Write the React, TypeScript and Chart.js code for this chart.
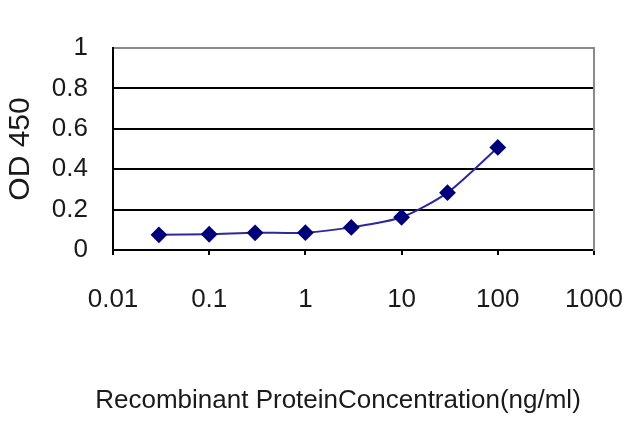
import React, { useEffect, useRef } from "react";
import { Chart, registerables } from "chart.js";

Chart.register(...registerables);

const concentrations = [0.03, 0.1, 0.3, 1, 3, 10, 30, 100];
const odValues = [0.075, 0.078, 0.085, 0.086, 0.112, 0.162, 0.284, 0.508];
const xTickValues = [0.01, 0.1, 1, 10, 100, 1000];
const xTitle = "Recombinant ProteinConcentration(ng/ml)";
const yTitle = "OD 450";

const FONT = "'Liberation Sans', Arial, sans-serif";

export default function App() {
  const ref = useRef<HTMLCanvasElement | null>(null);

  useEffect(() => {
    if (!ref.current) return;
    const chart = new Chart(ref.current, {
      type: "line",
      data: {
        datasets: [
          {
            data: concentrations.map((c, i) => ({ x: c, y: odValues[i] })),
            borderColor: "#2a2a9c",
            borderWidth: 2,
            backgroundColor: "#00007a",
            pointBackgroundColor: "#00007a",
            pointBorderColor: "#00007a",
            pointStyle: "rectRot",
            pointRadius: 7,
            tension: 0.25,
            fill: false,
          },
        ],
      },
      options: {
        animation: false,
        responsive: false,
        devicePixelRatio: 1,
        layout: { padding: { top: 48, right: 0, bottom: 0, left: 36 } },
        plugins: {
          legend: { display: false },
          tooltip: { enabled: false },
          title: {
            display: true,
            position: "bottom",
            text: xTitle,
            color: "#1a1a1a",
            font: { family: FONT, size: 26, weight: "normal" },
            padding: { top: 0, bottom: 11 },
          },
        },
        scales: {
          x: {
            type: "logarithmic",
            position: "bottom",
            min: 0.01,
            max: 1000,
            afterBuildTicks: (scale: any) => {
              scale.ticks = xTickValues.map((v) => ({ value: v }));
            },
            afterFit: (scale: any) => {
              scale.height = 427 - 250 - 42.2;
              scale.paddingLeft = 0;
              scale.paddingRight = 0;
            },
            ticks: {
              autoSkip: false,
              maxRotation: 0,
              padding: 29,
              color: "#1a1a1a",
              font: { family: FONT, size: 26 },
              callback: (v: any) => String(v),
            },
            grid: {
              display: true,
              drawOnChartArea: false,
              drawTicks: true,
              tickLength: 5,
              color: "#000",
              lineWidth: 2,
            },
            border: { display: true, color: "#000", width: 2 },
          },
          y: {
            position: "left",
            min: 0,
            max: 1,
            afterFit: (scale: any) => {
              scale.width = 113 - 36;
            },
            ticks: {
              stepSize: 0.2,
              padding: 25,
              color: "#1a1a1a",
              font: { family: FONT, size: 26 },
              callback: (v: any) => String(Number(Number(v).toFixed(1))),
            },
            grid: {
              drawTicks: false,
              color: (ctx: any) => (ctx.tick && ctx.tick.value === 1 ? "#8a8a8a" : "#000"),
              lineWidth: 2,
            },
            border: { display: true, color: "#000", width: 2 },
            title: {
              display: true,
              text: yTitle,
              color: "#1a1a1a",
              font: { family: FONT, size: 30 },
              padding: { top: -33, bottom: 0 },
            },
          },
          y2: {
            position: "right",
            display: true,
            min: 0,
            max: 1,
            afterFit: (scale: any) => {
              scale.width = 46;
            },
            ticks: { display: false },
            grid: { display: false, drawTicks: false },
            border: { display: true, color: "#8a8a8a", width: 2 },
          },
        },
      },
    });
    return () => chart.destroy();
  }, []);

  return (
    <div style={{ position: "absolute", left: 0, top: 0, width: 640, height: 427, background: "#fff" }}>
      <canvas ref={ref} width={640} height={427} />
    </div>
  );
}
